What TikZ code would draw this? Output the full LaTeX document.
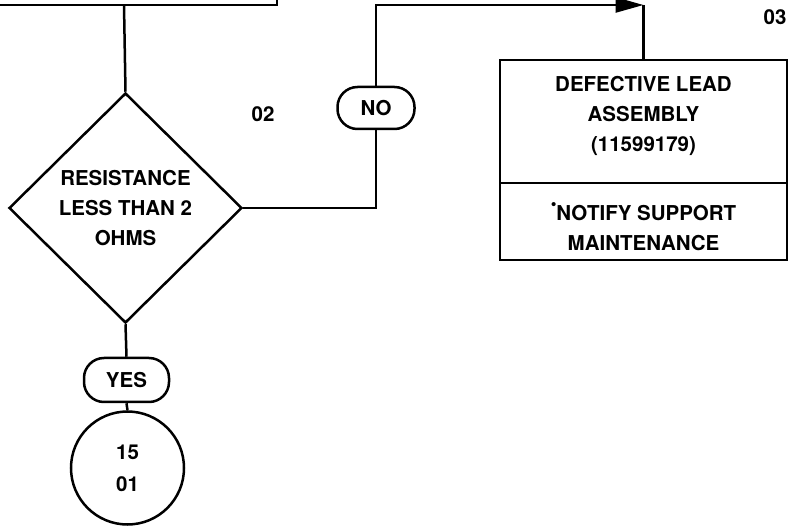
\documentclass[tikz,border=0pt]{standalone}
\usepackage{fontspec}
\setmainfont{TeX Gyre Heros}
\usetikzlibrary{shapes.geometric,arrows.meta}
\begin{document}
\begin{tikzpicture}[x=1pt,y=-1pt,line width=2.5pt,
  every node/.style={font=\bfseries\fontsize{20.5}{30}\selectfont},
  decision/.style={diamond,draw,minimum width=233pt,minimum height=230pt,inner sep=0pt,align=center},
  pill/.style={draw,rounded corners=20pt,inner sep=0pt},
  partbox/.style={draw,minimum width=287pt,inner sep=0pt},
  boxtext/.style={inner sep=0pt,align=center},
  conn/.style={circle,draw,minimum size=113pt,inner sep=0pt,align=center,font=\bfseries\fontsize{20.5}{32}\selectfont},
  lbl/.style={inner sep=0pt}]
\useasboundingbox (0,0) rectangle (793,529);
% top fragment of previous block
\coordinate (tl) at (0,5);
\coordinate (tr) at (277,5);
\coordinate (te) at (277,0);
\coordinate (tv) at (124,5);
\draw (tl) -- (tr) -- (te);
% nodes
\node[decision] (d) at (125.5,208) {RESISTANCE\\LESS THAN 2\\OHMS};
\node[pill,minimum width=77pt,minimum height=42pt] (no) at (376,108) {NO};
\node[pill,minimum width=85pt,minimum height=44pt] (yes) at (126.5,380) {YES};
\node[conn] (c) at (127.5,468) {15\\01};
\node[partbox,minimum height=123pt] (bt) at (643.5,121.5) {};
\node[partbox,minimum height=77pt] (bb) at (643.5,221.5) {};
\node[boxtext] (btt) at (643.5,115.5) {DEFECTIVE LEAD\\ASSEMBLY\\(11599179)};
\node[boxtext] (bbt) at (643.5,226.5) {\raisebox{0.95ex}{\scalebox{0.8}{\textbullet}}NOTIFY SUPPORT\\MAINTENANCE};
\node[lbl] (l02) at (263,114) {02};
\node[lbl] (l03) at (775,17) {03};
% connectors
\coordinate (ac) at (643.5,5);
\draw (tv) -- (d.north);
\draw (d.east) -| (no.south);
\draw[-{Triangle[length=28pt,width=15pt]}] (no.north) |- (ac);
\draw (ac) -- (bt.north);
\draw (d.south) -- (yes.north);
\draw (yes.south) -- (c.north);
\end{tikzpicture}
\end{document}
